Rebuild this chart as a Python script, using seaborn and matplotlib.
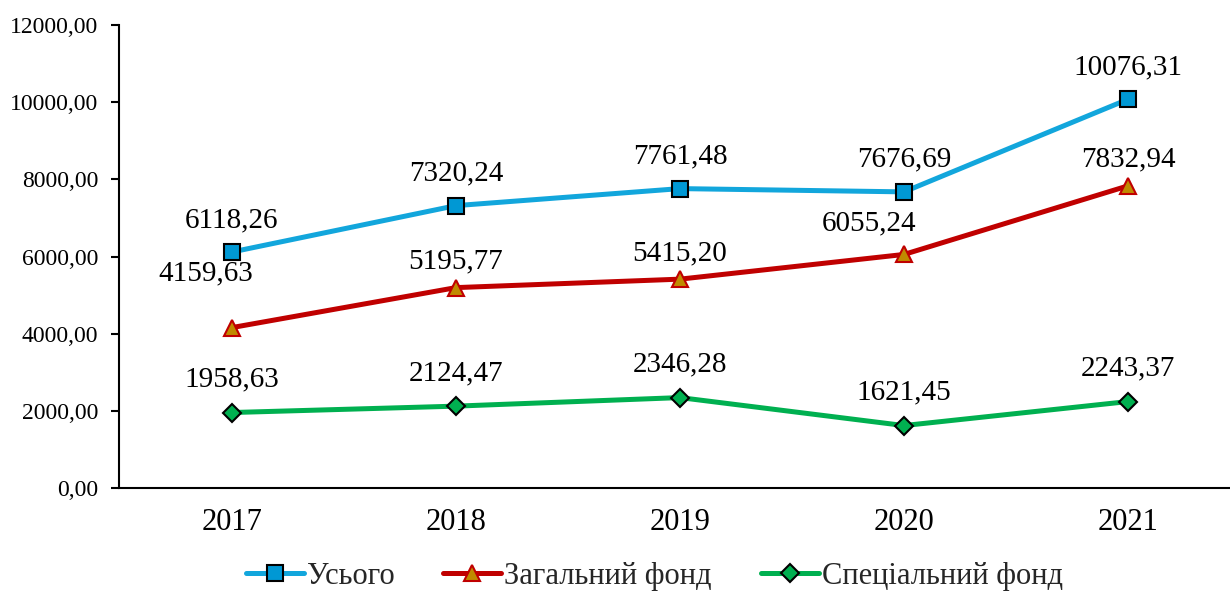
import matplotlib
matplotlib.use("Agg")
import matplotlib.pyplot as plt
import seaborn as sns
import pandas as pd
from matplotlib.ticker import FuncFormatter

# ── Data ─────────────────────────────────────────────────────────────────────
YEARS    = ["2017", "2018", "2019", "2020", "2021"]
TOTAL    = [6118.26, 7320.24, 7761.48, 7676.69, 10076.31]
GENERAL  = [4159.63, 5195.77, 5415.20, 6055.24, 7832.94]
SPECIAL  = [1958.63, 2124.47, 2346.28, 1621.45, 2243.37]
NAMES    = ["Усього", "Загальний фонд", "Спеціальний фонд"]

# ── Style ────────────────────────────────────────────────────────────────────
sns.set_theme(style="white")
plt.rcParams["font.family"] = ["Liberation Serif", "DejaVu Serif"]

STYLES = [
    dict(color="#12A6DC", marker="s", mfc="#0098D4", mec="black", ms=11, dy=25),
    dict(color="#C00000", marker="^", mfc="#C08A00", mec="#C00000", ms=12, dy=19),
    dict(color="#00B050", marker="D", mfc="#00B050", mec="black", ms=9, dy=26),
]
# label offsets in pixels (dx, dy) from the point to the text baseline
LABEL_SHIFT = {(1, 0): (-26, 47), (1, 3): (-35, 24)}

fig = plt.figure(figsize=(12.3, 5.96), dpi=100)
ax = fig.add_axes([0.0967, 0.181, 0.9033, 0.777])

for k, (name, vals) in enumerate(zip(NAMES, [TOTAL, GENERAL, SPECIAL])):
    df = pd.DataFrame({"year": YEARS, "value": vals})
    st = STYLES[k]
    sns.lineplot(data=df, x="year", y="value", ax=ax, color=st["color"],
                 linewidth=3.6, marker=st["marker"], markersize=st["ms"],
                 markerfacecolor=st["mfc"], markeredgecolor=st["mec"],
                 markeredgewidth=1.5, label=name, sort=False)
    for i, v in enumerate(vals):
        dx, dy = LABEL_SHIFT.get((k, i), (0, st["dy"]))
        ax.annotate(f"{v:.2f}".replace(".", ","), (i, v), xytext=(dx, dy),
                    textcoords="offset pixels", ha="center", va="baseline",
                    fontsize=21, color="black")

ax.set_xlim(-0.504, 4.455)
ax.set_ylim(0, 12000)
ax.set_yticks(range(0, 12001, 2000))
ax.yaxis.set_major_formatter(FuncFormatter(lambda v, p: f"{v:.2f}".replace(".", ",")))
ax.set_xlabel("")
ax.set_ylabel("")
ax.tick_params(axis="y", labelsize=17, length=6, width=1.5, pad=9, left=True, colors="black")
ax.tick_params(axis="x", labelsize=22, length=0, pad=14, colors="black")
for s in ["top", "right"]:
    ax.spines[s].set_visible(False)
for s in ["left", "bottom"]:
    ax.spines[s].set_color("black")
    ax.spines[s].set_linewidth(1.5)

handles, labels = ax.get_legend_handles_labels()
ax.get_legend().remove()
fig.legend(handles, labels, loc="center", bbox_to_anchor=(0.532, 0.033), ncol=3,
           frameon=False, fontsize=22, handlelength=1.9, handletextpad=0.1,
           columnspacing=1.6)

fig.savefig("out.png", dpi=100)
